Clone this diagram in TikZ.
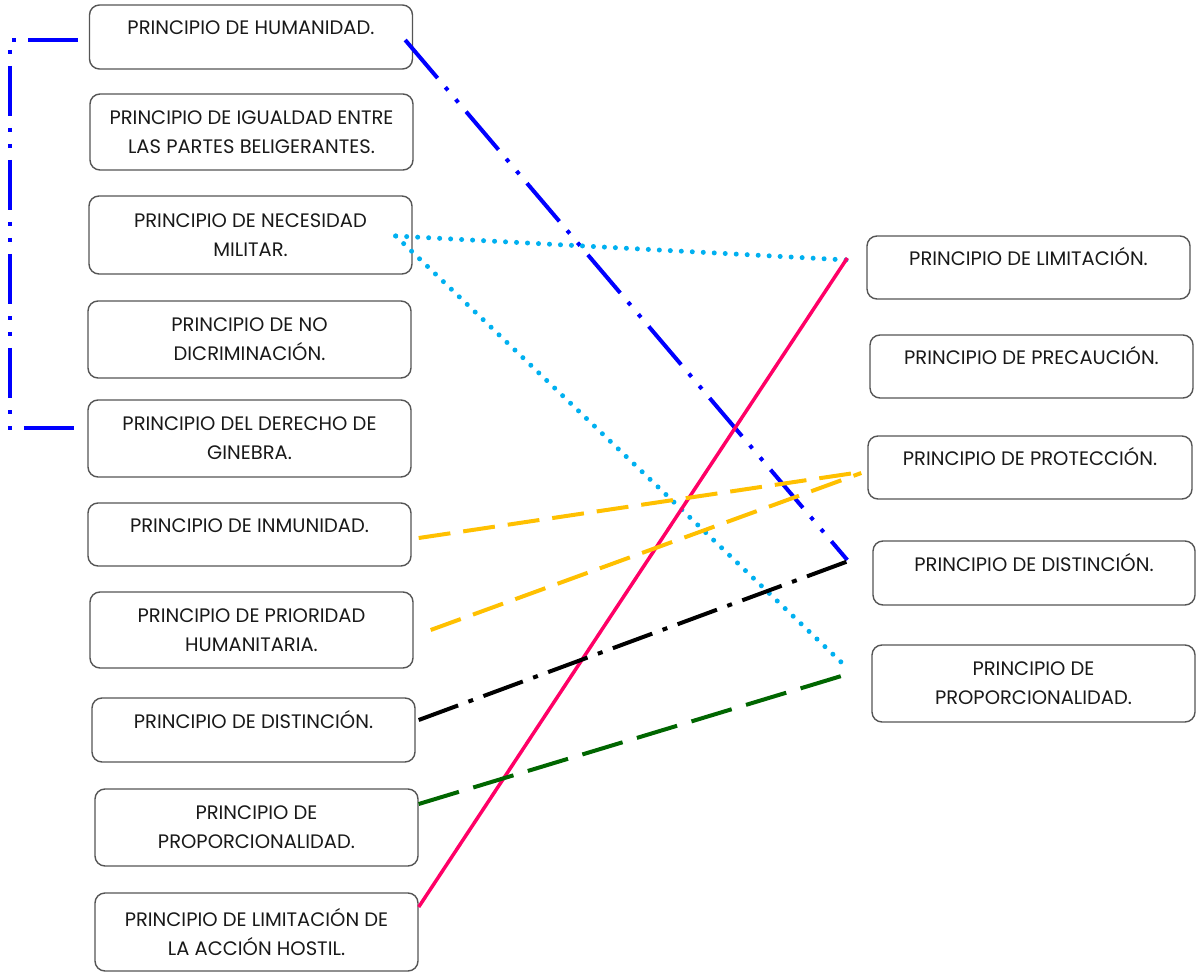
\documentclass[tikz,border=0pt]{standalone}
\usepackage{fontspec}
\setmainfont{Poppins}
\usetikzlibrary{calc}
\definecolor{boxgray}{RGB}{85,85,85}
\definecolor{cblue}{RGB}{0,0,255}
\definecolor{ccyan}{RGB}{0,176,240}
\definecolor{cpink}{RGB}{255,0,102}
\definecolor{cyellow}{RGB}{255,192,0}
\definecolor{cgreen}{RGB}{0,102,0}
\tikzset{
  box/.style={draw=boxgray, line width=1.4pt, rounded corners=10pt, inner sep=0pt,
    minimum width=323pt, align=center, text=black!90,
    font=\fontsize{19.5}{29}\selectfont},
  one/.style={box, minimum height=64pt, text height=14pt, text depth=18pt},
  two/.style={box, minimum height=77pt},
  bluedd/.style={cblue, line width=4pt, dash pattern=on 50pt off 12pt on 4pt off 12pt on 4pt off 12pt},
  cyandot/.style={ccyan, line width=5pt, line cap=round, dash pattern=on 0pt off 11pt},
  pinkline/.style={cpink, line width=3.5pt},
  yellowdash/.style={cyellow, line width=4pt, dash pattern=on 32pt off 13pt},
  greendash/.style={cgreen, line width=4pt, dash pattern=on 42pt off 15pt},
  blackdd/.style={black, line width=4pt, dash pattern=on 42pt off 11pt on 5pt off 11pt},
}
\begin{document}
\begin{tikzpicture}[x=1pt,y=-1pt]
\useasboundingbox (0,0) rectangle (1196,973);
% left column
\node[one] (L1) at (251,37) {PRINCIPIO DE HUMANIDAD.};
\node[two, minimum height=76pt] (L2) at (251.5,132) {PRINCIPIO DE IGUALDAD ENTRE\\LAS PARTES BELIGERANTES.};
\node[two, minimum height=78pt] (L3) at (250.5,235) {PRINCIPIO DE NECESIDAD\\MILITAR.};
\node[two] (L4) at (249.5,339.5) {PRINCIPIO DE NO\\DICRIMINACIÓN.};
\node[two] (L5) at (249.5,438.5) {PRINCIPIO DEL DERECHO DE\\GINEBRA.};
\node[one, minimum height=63pt] (L6) at (249.5,534.5) {PRINCIPIO DE INMUNIDAD.};
\node[two, minimum height=76pt] (L7) at (251.5,630) {PRINCIPIO DE PRIORIDAD\\HUMANITARIA.};
\node[one] (L8) at (253.5,730) {PRINCIPIO DE DISTINCIÓN.};
\node[two] (L9) at (256.5,827.5) {PRINCIPIO DE\\PROPORCIONALIDAD.};
\node[two, minimum height=78pt] (L10) at (256.5,932) {PRINCIPIO DE LIMITACIÓN DE\\LA ACCIÓN HOSTIL.};
% right column
\node[one, minimum height=63pt] (R1) at (1028.5,267.5) {PRINCIPIO DE LIMITACIÓN.};
\node[one, minimum height=63pt] (R2) at (1031.5,366.5) {PRINCIPIO DE PRECAUCIÓN.};
\node[one, minimum height=63pt, minimum width=324pt] (R3) at (1030,467.5) {PRINCIPIO DE PROTECCIÓN.};
\node[one, minimum width=322pt] (R4) at (1034,573) {PRINCIPIO DE DISTINCIÓN.};
\node[two] (R5) at (1033.5,683.5) {PRINCIPIO DE\\PROPORCIONALIDAD.};
% connectors
\draw[bluedd] ($(L1.west)+(-11,3)$) -- ++(-68,0) |- ($(L5.west)+(-10,-10.5)$);
\draw[bluedd] ($(L1.east)+(-8,3)$) -- ($(R4.west)+(-25,-13)$);
\draw[cyandot] ($(L3.east)+(-17,1)$) -- ($(R1.west)+(-19,-7.5)$);
\draw[cyandot] ($(L3.east)+(-17,1)$) -- ($(R5.west)+(-24,-15.5)$);
\draw[pinkline] ($(L10.east)+(0,-25)$) -- ($(R1.west)+(-19,-9.5)$);
\draw[yellowdash] ($(L6.east)+(7,3.5)$) -- ($(R3.west)+(-6,4.5)$);
\draw[yellowdash] ($(L7.east)+(17,0)$) -- ($(R3.west)+(-6,5.5)$);
\draw[blackdd] ($(L8.east)+(3,-10)$) -- ($(R4.west)+(-21,-13)$);
\draw[greendash] ($(L9.east)+(0,-23.5)$) -- ($(R5.west)+(-20,-10.5)$);
\end{tikzpicture}
\end{document}
